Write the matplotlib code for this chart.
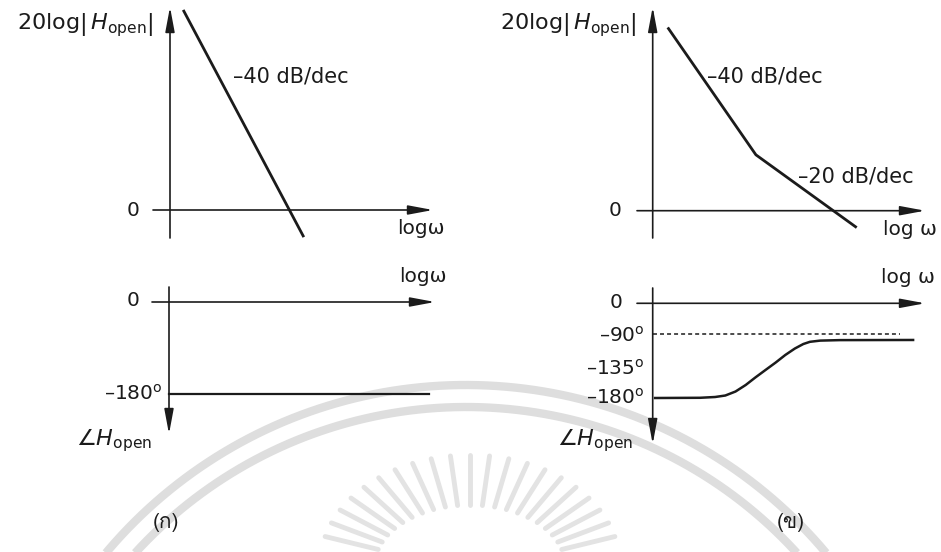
import numpy as np
import matplotlib
matplotlib.use("Agg")
import matplotlib.pyplot as plt
from matplotlib import font_manager
from matplotlib.ft2font import FT2Font

# ---------------- data ----------------
# (a) magnitude: one -40 dB/dec asymptote (log w in decades, magnitude in dB)
mag_a_logw = [0.22, 2.23]
mag_a_db = [70.8, -9.6]
# (b) magnitude: -40 dB/dec, then -20 dB/dec after the zero
mag_b_logw = [0.25, 1.72, 3.40]
mag_b_db = [84.6, 25.8, -7.8]
# (a) phase: constant -180 degrees
phase_a_logw = [0.0, 4.33]
phase_a_deg = [-180, -180]
# (b) phase: lifts from -180 toward -90 degrees
phase_b_logw = [0.04, 0.79, 1.04, 1.21, 1.38, 1.55, 1.71, 1.88, 2.05, 2.21,
                2.37, 2.51, 2.62, 2.79, 3.12, 4.34]
phase_b_deg = [-180, -179.7, -178.6, -176.5, -170.9, -161.7, -151.2, -140.6,
               -130.1, -119.5, -110.4, -104.1, -101.0, -99.3, -98.6, -98.4]
# (b) -90 degree reference level
ref_b_logw = [0.0, 4.12]
ref_b_deg = [-90, -90]

slope_labels_a = ["–40 dB/dec"]
slope_labels_b = ["–40 dB/dec", "–20 dB/dec"]
phase_ticks_a = [0, -180]
phase_ticks_b = [0, -90, -135, -180]
panel_tags = ["(ก)", "(ข)"]

# ---------------- fonts ----------------
def family_with(ch):
    for f in font_manager.fontManager.ttflist:
        try:
            if FT2Font(f.fname).get_char_index(ord(ch)):
                return f.name
        except Exception:
            pass
    return None

thai_family = family_with("ก")
tag_families = ([thai_family] if thai_family else []) + ["DejaVu Sans"]

plt.rcParams["font.family"] = ["DejaVu Sans"]
plt.rcParams["mathtext.fontset"] = "dejavusans"

INK = "#1b1b1b"
W, H = 941, 552
fig = plt.figure(figsize=(W / 100, H / 100), dpi=100)
fig.patch.set_facecolor("white")

# faint emblem watermark behind everything
bg = fig.add_axes([0, 0, 1, 1])
bg.set_xlim(0, W)
bg.set_ylim(H, 0)
bg.axis("off")
for r in (470, 448):
    t = np.linspace(np.pi * 1.02, np.pi * 1.98, 300)
    bg.plot(466 + r * np.cos(t), 855 + r * np.sin(t), color="#dedede", lw=6,
            solid_capstyle="butt")
for a in np.linspace(np.radians(195), np.radians(345), 21):
    bg.plot([470 + 95 * np.cos(a), 470 + 150 * np.cos(a)],
            [565 + 60 * np.sin(a), 565 + 110 * np.sin(a)],
            color="#e3e3e3", lw=3.5, solid_capstyle="round")


def make_axes(left, top, right, bottom, x0, y0, sx, sy=1.0, funcs=None):
    """Axes covering a pixel box, data origin at pixel (x0, y0)."""
    ax = fig.add_axes([left / W, 1 - bottom / H, (right - left) / W, (bottom - top) / H])
    ax.set_xlim((left - x0) / sx, (right - x0) / sx)
    if funcs is None:
        ax.set_ylim((y0 - bottom) / sy, (y0 - top) / sy)
    else:
        fwd, inv = funcs
        ax.set_yscale("function", functions=(fwd, inv))
        ax.set_ylim(float(inv(np.array(y0 - bottom))), float(inv(np.array(y0 - top))))
    ax.axis("off")
    return ax


def arrow(ax, tail, tip, coords):
    ax.annotate("", xy=tip, xytext=tail, xycoords=coords, textcoords=coords,
                arrowprops=dict(arrowstyle="-|>,head_length=1.5,head_width=0.28",
                                mutation_scale=10, lw=1.2, color=INK,
                                shrinkA=0, shrinkB=0), annotation_clip=False)


def label(ax, s, xy, off, coords="data", ha="left", va="center", size=14.5, **kw):
    ax.annotate(s, xy=xy, xycoords=coords, xytext=off, textcoords="offset pixels",
                ha=ha, va=va, fontsize=size, color=INK, annotation_clip=False, **kw)


VAX = ("data", "axes fraction")   # x in data, y along the axes
HAX = ("axes fraction", "data")   # x along the axes, y in data
TITLE = r"20log$\left|\,H_{\mathrm{open}}\right|$"
ANGLE = r"$\angle H_{\mathrm{open}}$"

# ---------- (a) magnitude ----------
ax = make_axes(153, 7, 433, 238, 170, 210, 60, 2.826)
arrow(ax, (0, 0), (0, 1), VAX)
arrow(ax, (0, 0), (1, 0), HAX)
ax.plot(mag_a_logw, mag_a_db, color=INK, lw=2.0, clip_on=False, solid_capstyle="butt")
label(ax, TITLE, (0, 1), (-17, -18), VAX, ha="right", size=16)
label(ax, slope_labels_a[0], (mag_a_logw[0], mag_a_db[0]), (50, -67), size=15)
label(ax, "0", (0, 0), (-14, 0), HAX, ha="right")
label(ax, "logω", (1, 0), (12, -19), HAX, ha="right")

# ---------- (b) magnitude ----------
ax = make_axes(637, 7, 925, 238, 652.7, 210.7, 60, 2.166)
arrow(ax, (0, 0), (0, 1), VAX)
arrow(ax, (0, 0), (1, 0), HAX)
ax.plot(mag_b_logw, mag_b_db, color=INK, lw=2.0, clip_on=False, solid_capstyle="butt")
label(ax, TITLE, (0, 1), (-16, -18), VAX, ha="right", size=16)
label(ax, slope_labels_b[0], (mag_b_logw[0], mag_b_db[0]), (39, -49), size=15)
label(ax, slope_labels_b[1], (mag_b_logw[1], mag_b_db[1]), (42, -22), size=15)
label(ax, "0", (0, 0), (-16, 0), HAX, ha="right")
label(ax, "log ω", (1, 0), (12, -19), HAX, ha="right")

# ---------- (a) phase ----------
ax = make_axes(152, 287, 435, 434, 169, 302, 60, 92 / 180)
arrow(ax, (0, 1), (0, 0), VAX)
arrow(ax, (0, 0), (1, 0), HAX)
ax.plot(phase_a_logw, phase_a_deg, color=INK, lw=1.6, clip_on=False)
label(ax, "logω", (1, 0), (12, 25), HAX, ha="right")
label(ax, "0", (0, phase_ticks_a[0]), (-29, 1), ha="right")
label(ax, "–%d$^{\\mathrm{o}}$" % abs(phase_ticks_a[1]), (0, phase_ticks_a[1]), (-6, -6),
      ha="right", va="baseline")
label(ax, ANGLE, (0, 0), (-17, -6), VAX, ha="right", size=16)


# ---------- (b) phase ----------
def fwd(d):
    d = np.asarray(d, dtype=float)
    return np.where(d >= -90, d * (30.7 / 90), -30.7 + (d + 90) * (64 / 90))


def inv(v):
    v = np.asarray(v, dtype=float)
    return np.where(v >= -30.7, v * (90 / 30.7), -90 + (v + 30.7) * (90 / 64))


ax = make_axes(637, 288, 925, 444, 652.7, 303.3, 60, 1.0, funcs=(fwd, inv))
arrow(ax, (0, 1), (0, 0), VAX)
arrow(ax, (0, 0), (1, 0), HAX)
ax.plot(ref_b_logw, ref_b_deg, color=INK, lw=1.1, ls=(0, (2.6, 2.0)), clip_on=False)
ax.plot(phase_b_logw, phase_b_deg, color=INK, lw=1.8, clip_on=False,
        solid_joinstyle="round")
label(ax, "log ω", (1, 0), (10, 26), HAX, ha="right")
label(ax, "0", (0, phase_ticks_b[0]), (-30, 1), ha="right")
for tk, dy in zip(phase_ticks_b[1:], (-8, -9, -6)):
    label(ax, "–%d$^{\\mathrm{o}}$" % abs(tk), (0, tk), (-8, dy), ha="right", va="baseline")
label(ax, ANGLE, (0, 0), (-20, 4), VAX, ha="right", size=16)

# panel tags
fig.text(166 / W, 1 - 522 / H, panel_tags[0], ha="center", va="center",
         fontsize=15, color=INK, family=tag_families)
fig.text(791 / W, 1 - 523 / H, panel_tags[1], ha="center", va="center",
         fontsize=15, color=INK, family=tag_families)

fig.savefig("out.png", dpi=100, facecolor="white")
